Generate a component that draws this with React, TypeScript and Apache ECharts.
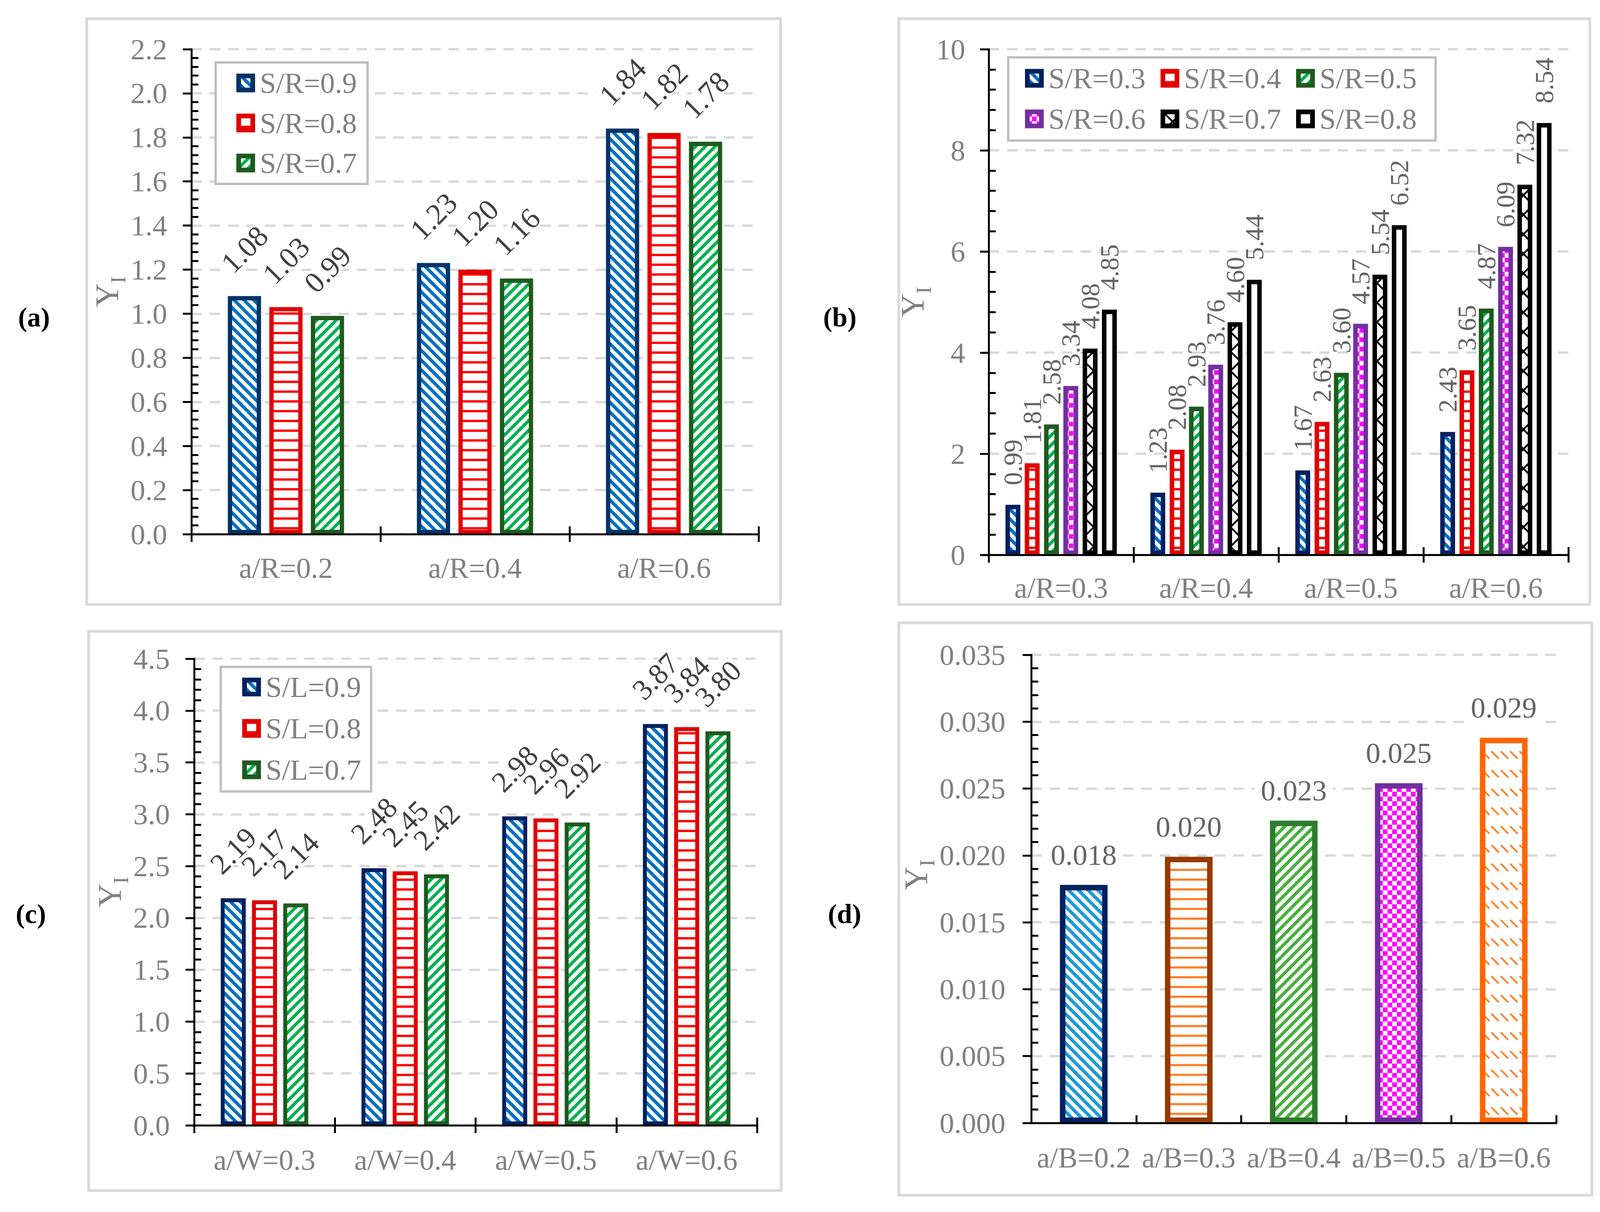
import React, { useEffect, useRef } from 'react';
import * as echarts from 'echarts';

// ---------- data ----------
const catsA = ['a/R=0.2', 'a/R=0.4', 'a/R=0.6'];
const namesA = ['S/R=0.9', 'S/R=0.8', 'S/R=0.7'];
const aSR09 = [1.08, 1.23, 1.84];
const aSR08 = [1.03, 1.2, 1.82];
const aSR07 = [0.99, 1.16, 1.78];

const catsB = ['a/R=0.3', 'a/R=0.4', 'a/R=0.5', 'a/R=0.6'];
const namesB = ['S/R=0.3', 'S/R=0.4', 'S/R=0.5', 'S/R=0.6', 'S/R=0.7', 'S/R=0.8'];
const bSR03 = [0.99, 1.23, 1.67, 2.43];
const bSR04 = [1.81, 2.08, 2.63, 3.65];
const bSR05 = [2.58, 2.93, 3.6, 4.87];
const bSR06 = [3.34, 3.76, 4.57, 6.09];
const bSR07 = [4.08, 4.6, 5.54, 7.32];
const bSR08 = [4.85, 5.44, 6.52, 8.54];

const catsC = ['a/W=0.3', 'a/W=0.4', 'a/W=0.5', 'a/W=0.6'];
const namesC = ['S/L=0.9', 'S/L=0.8', 'S/L=0.7'];
const cSL09 = [2.19, 2.48, 2.98, 3.87];
const cSL08 = [2.17, 2.45, 2.96, 3.84];
const cSL07 = [2.14, 2.42, 2.92, 3.8];

const catsD = ['a/B=0.2', 'a/B=0.3', 'a/B=0.4', 'a/B=0.5', 'a/B=0.6'];
const dValues = [0.0178, 0.0199, 0.0226, 0.0254, 0.0288];

// axis ranges / tick steps
const yMaxA = 2.2, yStepA = 0.2;
const yMaxB = 10, yStepB = 2;
const yMaxC = 4.5, yStepC = 0.5;
const yMaxD = 0.035, yStepD = 0.005;

// ---------- styling ----------
const FONT = "'Liberation Serif', 'Times New Roman', Times, serif";
const GRAY = '#808080';
const BLACK = '#000000';

function tile(w: number, h: number, draw: (ctx: CanvasRenderingContext2D) => void) {
  const c = document.createElement('canvas');
  c.width = w;
  c.height = h;
  const ctx = c.getContext('2d') as CanvasRenderingContext2D;
  ctx.fillStyle = '#ffffff';
  ctx.fillRect(0, 0, w, h);
  draw(ctx);
  return { image: c, repeat: 'repeat', imageWidth: w, imageHeight: h } as any;
}
function stripeDown(color: string, P = 25, f = 0.48) {
  return tile(P, P, (ctx) => {
    ctx.fillStyle = color;
    for (let k = -2; k <= 1; k++) {
      ctx.beginPath();
      ctx.moveTo(k * P, 0);
      ctx.lineTo(k * P + f * P, 0);
      ctx.lineTo(k * P + f * P + P, P);
      ctx.lineTo(k * P + P, P);
      ctx.closePath();
      ctx.fill();
    }
  });
}
function stripeUp(color: string, P = 25, f = 0.46) {
  return tile(P, P, (ctx) => {
    ctx.fillStyle = color;
    for (let k = 0; k <= 2; k++) {
      ctx.beginPath();
      ctx.moveTo(k * P, 0);
      ctx.lineTo(k * P + f * P, 0);
      ctx.lineTo(k * P + f * P - P, P);
      ctx.lineTo(k * P - P, P);
      ctx.closePath();
      ctx.fill();
    }
  });
}
function hLines(color: string, P = 25, t = 6) {
  return tile(P, P, (ctx) => {
    ctx.fillStyle = color;
    ctx.fillRect(0, 0, P, t);
  });
}
function checker(color: string, c = 12) {
  return tile(2 * c, 2 * c, (ctx) => {
    ctx.fillStyle = color;
    ctx.fillRect(0, 0, c, c);
    ctx.fillRect(c, c, c, c);
  });
}
function crossHatch(color: string, P = 50, lw = 4.5) {
  return tile(P, P, (ctx) => {
    ctx.strokeStyle = color;
    ctx.lineWidth = lw;
    ctx.beginPath();
    for (let k = -1; k <= 1; k++) {
      ctx.moveTo(k * P, 0);
      ctx.lineTo(k * P + P, P);
    }
    for (let k = 0; k <= 2; k++) {
      ctx.moveTo(k * P, 0);
      ctx.lineTo(k * P - P, P);
    }
    ctx.stroke();
  });
}
function dashDiag(color: string) {
  return tile(24, 48, (ctx) => {
    ctx.strokeStyle = color;
    ctx.lineWidth = 4.5;
    ctx.beginPath();
    ctx.moveTo(2, 4);
    ctx.lineTo(21, 23);
    ctx.stroke();
  });
}

function buildOption() {
  const patBlue = stripeDown('#0070C0');
  const patRed = hLines('#FF0000');
  const patGreen = stripeUp('#00B050');
  const patMagenta = checker('#FF00FF');
  const patCross = crossHatch('#000000');
  const patLightBlue = stripeDown('#1C9AD6');
  const patOrangeLines = hLines('#FF7F27', 25, 5.5);
  const patGreenD = stripeUp('#46B03C');
  const patOrangeDash = dashDiag('#FF7F27');

  const grids = [
    { left: 490, top: 126, width: 1452, height: 1242 },
    { left: 2531, top: 126, width: 1484, height: 1295 },
    { left: 497, top: 1687, width: 1441, height: 1195 },
    { left: 2640, top: 1677, width: 1344, height: 1199 },
  ].map((g) => ({ ...g, outerBoundsMode: 'none', containLabel: false }));

  const axisLine = { show: true, lineStyle: { color: BLACK, width: 5 } };
  const tickStyle = { color: BLACK, width: 5 };

  const xPrimary = (gi: number, data: string[], margin: number, inside = false) => ({
    type: 'category',
    gridIndex: gi,
    data,
    position: 'bottom',
    z: 5,
    axisLine,
    axisTick: { show: true, inside, length: 20, lineStyle: tickStyle },
    axisLabel: { color: GRAY, fontSize: 75, fontFamily: FONT, margin, interval: 0 },
    splitLine: { show: false },
  });
  const xSecondary = (gi: number, data: string[]) => ({
    type: 'category',
    gridIndex: gi,
    data,
    position: 'bottom',
    z: 5,
    axisLine: { show: false },
    axisTick: { show: true, inside: true, length: 20, lineStyle: tickStyle },
    axisLabel: { show: false },
    splitLine: { show: false },
  });

  const yName = (nameGap: number, shift = 0) => ({
    name: '{y|Y}{s|I}',
    nameLocation: 'middle',
    nameGap,
    nameTextStyle: {
      color: GRAY,
      fontFamily: FONT,
      rich: {
        y: { fontSize: 84, lineHeight: 84, verticalAlign: 'top', color: GRAY, fontFamily: FONT, padding: [0, 0, 0, shift] },
        s: { fontSize: 55, lineHeight: 55, verticalAlign: 'top', color: GRAY, fontFamily: FONT, padding: [43, 0, 0, 0] },
      },
    },
  });

  const yPrimary = (gi: number, max: number, step: number, dec: number, margin: number, nameGap: number, shift = 0) => ({
    type: 'value',
    gridIndex: gi,
    position: 'left',
    min: 0,
    max,
    interval: step,
    axisLine,
    axisTick: { show: true, length: 22, lineStyle: tickStyle },
    axisLabel: {
      color: GRAY,
      fontSize: 75,
      fontFamily: FONT,
      margin,
      formatter: (v: number) => v.toFixed(dec),
    },
    splitLine: { show: true, lineStyle: { color: '#D9D9D9', width: 6, type: [27, 20] } },
    ...yName(nameGap, shift),
  });
  const ySecondary = (gi: number, max: number, step: number) => ({
    type: 'value',
    gridIndex: gi,
    position: 'left',
    min: 0,
    max,
    interval: step,
    axisLine: { show: false },
    axisTick: { show: false, inside: true },
    minorTick: { show: true, splitNumber: 5, length: 18, lineStyle: tickStyle },
    axisLabel: { show: false },
    splitLine: { show: false },
    minorSplitLine: { show: false },
  });

  const fmt2 = (p: any) => Number(p.value).toFixed(2);
  const labelDiag = (distance: number, fontSize: number) => ({
    show: true,
    position: 'top',
    distance,
    rotate: 45,
    align: 'center',
    verticalAlign: 'middle',
    fontSize,
    lineHeight: Math.round(fontSize * 0.74),
    color: '#404040',
    fontFamily: FONT,
    backgroundColor: '#ffffff',
    padding: [0, 6],
    formatter: fmt2,
  });
  const labelA = labelDiag(120, 76);
  const labelC = labelDiag(122, 75);
  const labelB = {
    show: true,
    position: 'top',
    distance: 50,
    rotate: 90,
    align: 'left',
    verticalAlign: 'middle',
    fontSize: 67,
    color: '#646464',
    fontFamily: FONT,
    formatter: fmt2,
  };
  const labelD = {
    show: true,
    position: 'top',
    distance: 77,
    verticalAlign: 'middle',
    fontSize: 75,
    color: '#646464',
    fontFamily: FONT,
    backgroundColor: '#ffffff',
    padding: [2, 16],
    formatter: (p: any) => Number(p.value).toFixed(3),
  };

  const bar = (name: string, data: number[], ai: number, color: any, borderColor: string, borderWidth: number, barWidth: number, barGap: string, label: any) => ({
    name,
    type: 'bar',
    xAxisIndex: ai,
    yAxisIndex: ai,
    data,
    barWidth,
    barGap,
    itemStyle: { color, borderColor, borderWidth },
    label,
    emphasis: { disabled: true },
  });

  const series: any[] = [
    bar('A:' + namesA[0], aSR09, 0, patBlue, '#003366', 11, 85, '25%', labelA),
    bar('A:' + namesA[1], aSR08, 0, patRed, '#E00000', 11, 85, '25%', labelA),
    bar('A:' + namesA[2], aSR07, 0, patGreen, '#1E5A1E', 11, 85, '25%', labelA),

    bar('B:' + namesB[0], bSR03, 1, patBlue, '#002060', 11.5, 38, '30%', labelB),
    bar('B:' + namesB[1], bSR04, 1, patRed, '#E00000', 11.5, 38, '30%', labelB),
    bar('B:' + namesB[2], bSR05, 1, patGreen, '#1E5A1E', 11.5, 38, '30%', labelB),
    bar('B:' + namesB[3], bSR06, 1, patMagenta, '#7030A0', 11.5, 38, '30%', labelB),
    bar('B:' + namesB[4], bSR07, 1, patCross, '#000000', 11.5, 38, '30%', labelB),
    bar('B:' + namesB[5], bSR08, 1, '#ffffff', '#000000', 11.5, 38, '30%', labelB),

    bar('C:' + namesC[0], cSL09, 2, patBlue, '#002060', 10, 64, '25%', labelC),
    bar('C:' + namesC[1], cSL08, 2, patRed, '#E00000', 10, 64, '25%', labelC),
    bar('C:' + namesC[2], cSL07, 2, patGreen, '#1E5A1E', 10, 64, '25%', labelC),
  ];

  const dStyles = [
    { color: patLightBlue, borderColor: '#002060' },
    { color: patOrangeLines, borderColor: '#963A00' },
    { color: patGreenD, borderColor: '#2E7D2E' },
    { color: patMagenta, borderColor: '#7030A0' },
    { color: patOrangeDash, borderColor: '#FF6600' },
  ];
  series.push({
    name: 'D:Y',
    type: 'bar',
    xAxisIndex: 3,
    yAxisIndex: 3,
    barWidth: 122,
    data: dValues.map((v, i) => ({ value: v, itemStyle: { ...dStyles[i], borderWidth: 14 } })),
    label: labelD,
    emphasis: { disabled: true },
  });

  const legendBase = {
    icon: 'rect',
    itemWidth: 36,
    itemHeight: 36,
    selectedMode: false,
    padding: 0,
    formatter: (n: string) => n.split(':')[1],
    textStyle: { color: GRAY, fontSize: 75, fontFamily: FONT, padding: [0, 0, 0, 13] },
    itemStyle: { borderWidth: 12 },
  };
  const legend = [
    { ...legendBase, orient: 'vertical', left: 605, top: 175, itemGap: 27.5, data: namesA.map((n) => 'A:' + n) },
    { ...legendBase, orient: 'horizontal', left: 2624, top: 163, itemGap: 38.4, data: namesB.slice(0, 3).map((n) => 'B:' + n) },
    { ...legendBase, orient: 'horizontal', left: 2624, top: 267, itemGap: 38.4, data: namesB.slice(3).map((n) => 'B:' + n) },
    { ...legendBase, orient: 'vertical', left: 620, top: 1722, itemGap: 31, data: namesC.map((n) => 'C:' + n) },
  ];

  const panelRect = (x: number, y: number, w: number, h: number) => ({
    type: 'rect',
    z: 1,
    silent: true,
    shape: { x, y, width: w, height: h },
    style: { fill: 'none', stroke: '#D9D9D9', lineWidth: 7 },
  });
  const legendBox = (x: number, y: number, w: number, h: number) => ({
    type: 'rect',
    z: 3,
    silent: true,
    shape: { x, y, width: w, height: h },
    style: { fill: '#ffffff', stroke: '#BFBFBF', lineWidth: 6 },
  });
  const letter = (t: string, x: number, y: number) => ({
    type: 'text',
    z: 3,
    silent: true,
    x,
    y,
    style: {
      text: t,
      fill: '#000000',
      fontSize: 70,
      fontWeight: 'bold',
      fontFamily: FONT,
      textAlign: 'center',
      textVerticalAlign: 'middle',
    },
  });

  return {
    animation: false,
    backgroundColor: '#ffffff',
    grid: grids,
    xAxis: [
      xPrimary(0, catsA, 49),
      xPrimary(1, catsB, 47),
      xPrimary(2, catsC, 51),
      xPrimary(3, catsD, 51, true),
      xSecondary(0, catsA),
      xSecondary(1, catsB),
      xSecondary(2, catsC),
    ],
    yAxis: [
      yPrimary(0, yMaxA, yStepA, 1, 62, 142),
      yPrimary(1, yMaxB, yStepB, 0, 60, 97),
      yPrimary(2, yMaxC, yStepC, 1, 62, 137),
      yPrimary(3, yMaxD, yStepD, 3, 66, 211, 72),
      ySecondary(0, yMaxA, yStepA),
      ySecondary(1, yMaxB, yStepB),
      ySecondary(2, yMaxC, yStepC),
      ySecondary(3, yMaxD, yStepD),
    ],
    legend,
    series,
    graphic: [
      panelRect(222, 48, 1776, 1500),
      panelRect(2301, 48, 1769, 1500),
      panelRect(227, 1617, 1773, 1432),
      panelRect(2301, 1595, 1774, 1466),
      legendBox(552, 160, 389, 311),
      legendBox(2581, 147, 1094, 213),
      legendBox(565, 1708, 385, 319),
      letter('(a)', 87, 812),
      letter('(b)', 2150, 812),
      letter('(c)', 79, 2340),
      letter('(d)', 2162, 2340),
    ],
  };
}

export default function App() {
  const ref = useRef<HTMLDivElement>(null);
  useEffect(() => {
    const chart = echarts.init(ref.current as HTMLDivElement, null, { renderer: 'svg' });
    chart.setOption(buildOption() as any);
    return () => {
      chart.dispose();
    };
  }, []);
  return (
    <div
      ref={ref}
      style={{ position: 'absolute', left: 0, top: 0, width: 4131, height: 3104, background: '#ffffff' }}
    />
  );
}
